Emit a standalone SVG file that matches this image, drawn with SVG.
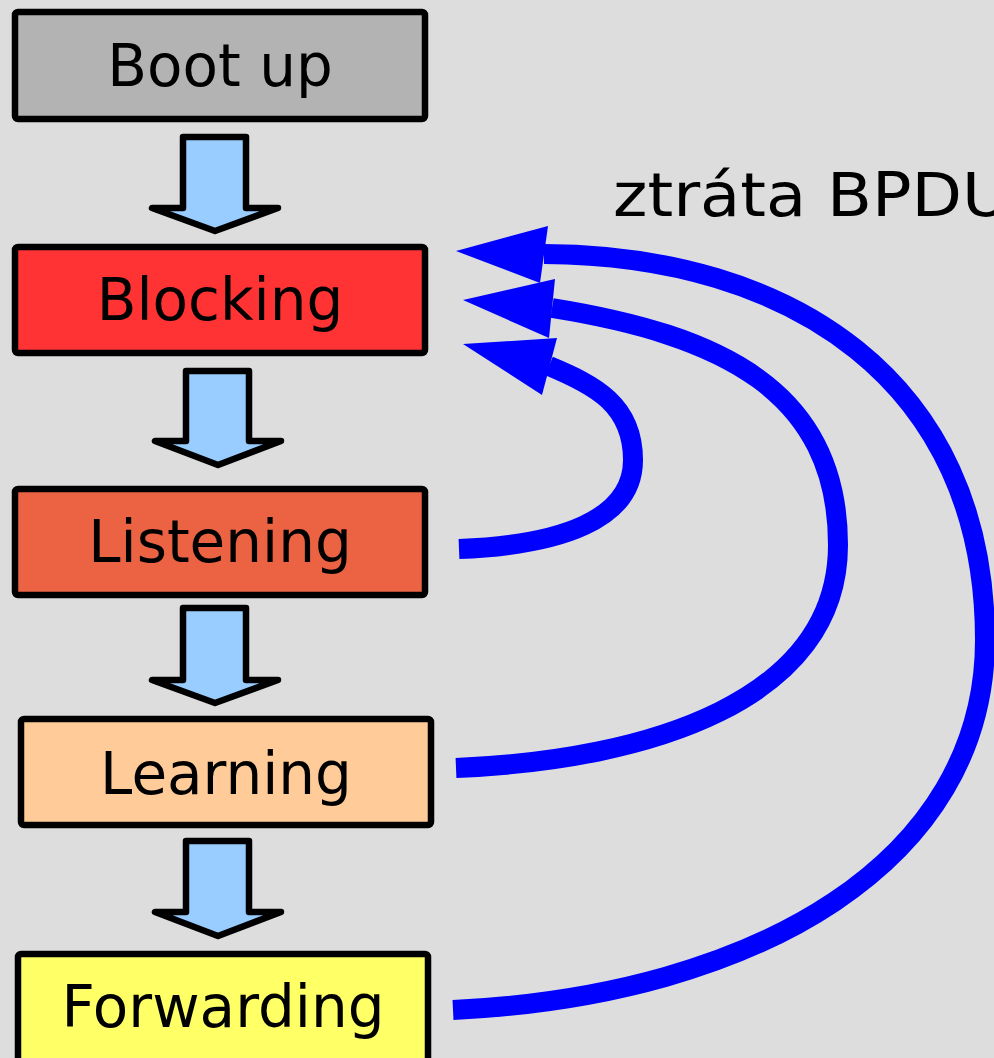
<svg xmlns="http://www.w3.org/2000/svg" width="994" height="1058" viewBox="0 0 994 1058">
<style>
.box{stroke:#000;stroke-width:6.5;stroke-linejoin:round}
.lbl{font-family:"DejaVu Sans",sans-serif;font-size:58px;fill:#000;text-anchor:middle}
.down{fill:#99ccff;stroke:#000;stroke-width:6.5;stroke-linejoin:round}
.loop{fill:none;stroke:#0000ff;stroke-width:20}
.head{fill:#0000ff}
</style>
<rect width="994" height="1058" fill="#dddddd"/>
<g id="bootup"><rect class="box" x="15" y="12" width="410" height="107" rx="3" fill="#b3b3b3"/><text class="lbl" x="220" y="86">Boot up</text></g>
<g id="blocking"><rect class="box" x="15" y="247" width="410" height="106" rx="3" fill="#ff3333"/><text class="lbl" x="220" y="320">Blocking</text></g>
<g id="listening"><rect class="box" x="15" y="489" width="410" height="106" rx="3" fill="#eb6343"/><text class="lbl" x="220" y="562">Listening</text></g>
<g id="learning"><rect class="box" x="21" y="719" width="410" height="106" rx="3" fill="#ffcc99"/><text class="lbl" x="226" y="794">Learning</text></g>
<g id="forwarding"><rect class="box" x="18" y="954" width="410" height="110" rx="3" fill="#ffff66"/><text class="lbl" x="223" y="1027">Forwarding</text></g>
<g id="label"><text x="613" y="216" textLength="397" lengthAdjust="spacingAndGlyphs" style="font-family:'DejaVu Sans',sans-serif;font-size:61px;fill:#000">ztráta BPDU</text></g>
<g id="connectors">
<path class="down" d="M183,137 L246,137 L246,208 L278,208 L215,231 L152,208 L183,208 Z"/>
<path class="down" d="M186,371 L249,371 L249,441 L281,441 L218,465 L155,441 L186,441 Z"/>
<path class="down" d="M183,608 L246,608 L246,680 L278,680 L215,703 L152,680 L183,680 Z"/>
<path class="down" d="M186,841 L249,841 L249,912 L281,912 L218,936 L155,912 L186,912 Z"/>
<path class="loop" d="M459,549 C560,545 633,520 633,460 C633,405 595,385 549,366"/>
<polygon class="head" points="463,344 557,338 542,395"/>
<path class="loop" d="M456,768 C650,760 838,700 838,545 C838,390 720,335 552,308"/>
<polygon class="head" points="463,300 555,279 549,338"/>
<path class="loop" d="M453,1010 C760,995 985,860 985,640 C985,380 790,255 544,254"/>
<polygon class="head" points="456,251 548,226 540,283"/>
</g>
</svg>
